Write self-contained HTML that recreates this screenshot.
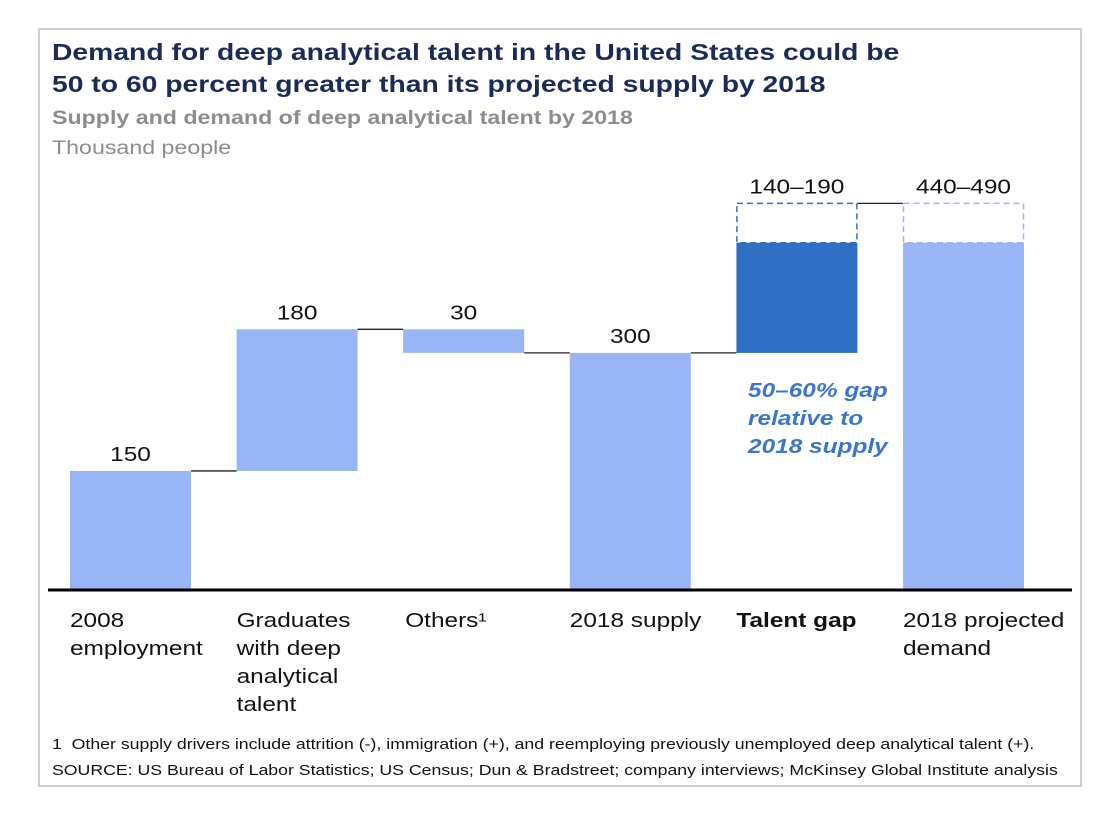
<!DOCTYPE html>
<html><head><meta charset="utf-8"><style>
body{margin:0;background:#fff;font-family:"Liberation Sans",sans-serif}
#frame{position:absolute;left:38px;top:28px;width:1044px;height:759px;border:2px solid #d0d0d0;box-sizing:border-box}
.t{position:absolute;white-space:nowrap;transform:scaleX(1.22);transform-origin:0 0}
</style></head><body>
<div id="frame"></div>
<div class="t" style="left:52px;top:36px;font-size:23.2px;font-weight:bold;color:#1a2b5a;line-height:32px">Demand for deep analytical talent in the United States could be<br>50 to 60 percent greater than its projected supply by 2018</div>
<div class="t" style="left:52px;top:108px;font-size:19px;font-weight:bold;color:#8c8c8c">Supply and demand of deep analytical talent by 2018</div>
<div class="t" style="left:52px;top:138px;font-size:19px;color:#8c8c8c">Thousand people</div>
<svg id="chart" width="1118" height="822" style="position:absolute;left:0;top:0"></svg>
<div class="t" style="left:748px;top:377px;font-size:20px;font-weight:bold;font-style:italic;color:#3a76cc;line-height:28px">50–60% gap<br>relative to<br>2018 supply</div>
<div class="t" style="left:52px;top:737px;font-size:14.5px;color:#111">1&nbsp; Other supply drivers include attrition (-), immigration (+), and reemploying previously unemployed deep analytical talent (+).</div>
<div class="t" style="left:52px;top:763px;font-size:14.5px;color:#111">SOURCE: US Bureau of Labor Statistics; US Census; Dun &amp; Bradstreet; company interviews; McKinsey Global Institute analysis</div>
<script>
const categories=["2008\nemployment","Graduates\nwith deep\nanalytical\ntalent","Others¹","2018 supply","Talent gap","2018 projected\ndemand"];
const barStart=[0,150,330,0,300,0];
const barEnd=[150,330,300,300,440,440];
const rangeHigh=[null,null,null,null,490,490];
const valueLabels=["150","180","30","300","140–190","440–490"];
const NS="http://www.w3.org/2000/svg",svg=document.getElementById('chart');
const base=589,k=0.787,x0=70,step=166.6,bw=121,S=1.22;
const y=v=>base-v*k, xL=i=>x0+i*step;
function mk(t,a){const e=document.createElementNS(NS,t);for(const n in a)e.setAttribute(n,a[n]);svg.appendChild(e);return e;}
const sx=cx=>`translate(${cx},0) scale(${S},1) translate(${-cx},0)`;
categories.forEach((c,i)=>{
 const lo=Math.min(barStart[i],barEnd[i]),hi=Math.max(barStart[i],barEnd[i]);
 const r=mk('rect',{x:xL(i),y:y(hi),width:bw,height:(hi-lo)*k,fill:i==4?'#2e6fc4':'#99b5f5'});
 
 
 let top=hi;
 if(rangeHigh[i]!=null){
  const d=mk('rect',{x:xL(i)+0.5,y:y(rangeHigh[i]),width:bw-1,height:(rangeHigh[i]-hi)*k,fill:'none',stroke:i==4?'#2e6fc4':'#99b5f5','stroke-width':1.5,'stroke-dasharray':'6,4'});
  
  
  top=rangeHigh[i];
 }
 const cx=xL(i)+bw/2;
 const t=mk('text',{x:cx,y:y(top)-10,'text-anchor':'middle','font-size':20,fill:'#111','font-family':'Liberation Sans',transform:sx(cx)});
 t.textContent=valueLabels[i];
 
 
 const lx=xL(i)+(i==2?2:0);
 const ct=mk('text',{x:lx,y:627,'font-size':20,fill:'#111','font-family':'Liberation Sans','font-weight':i==4?'bold':'normal',transform:sx(lx)});
 
 
 c.split('\n').forEach((l,j)=>{const s=document.createElementNS(NS,'tspan');s.setAttribute('x',lx);s.setAttribute('dy',j?28:0);s.textContent=l;ct.appendChild(s);});
 if(i<categories.length-1){
  const lv=i==4?rangeHigh[i]:barEnd[i];
  const cn=mk('line',{x1:xL(i)+bw,x2:xL(i+1),y1:y(lv),y2:y(lv),stroke:'#222','stroke-width':1.3});
  
  
 }
});
const ax=mk('line',{x1:48,x2:1072,y1:base+1,y2:base+1,stroke:'#000','stroke-width':3});


</script>
</body></html>
